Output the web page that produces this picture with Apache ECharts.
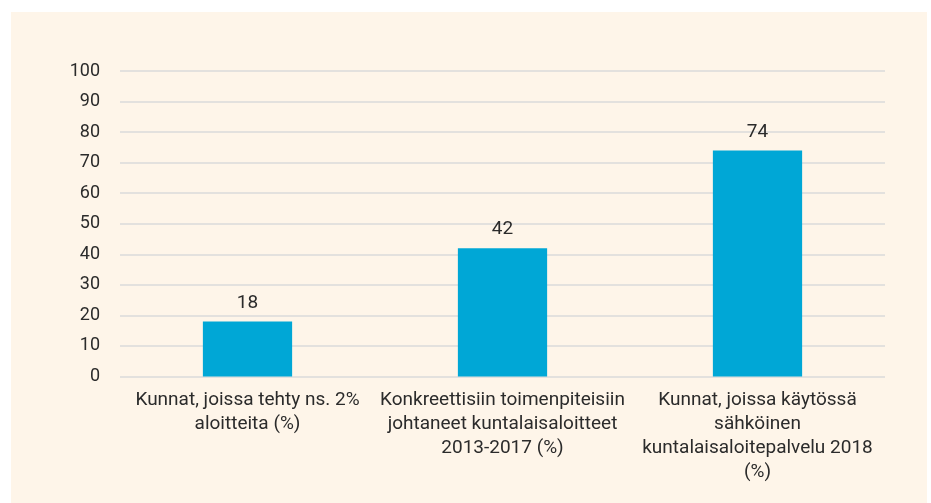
<!DOCTYPE html>
<html>
<head>
<meta charset="utf-8">
<script src="https://cdn.jsdelivr.net/npm/echarts@6/dist/echarts.min.js"></script>
<style>
  html, body { margin: 0; padding: 0; background: #ffffff; }
  #chart { position: absolute; left: 11px; top: 12px; width: 916px; height: 491px; }
</style>
</head>
<body>
<div id="chart"></div>
<script>
const categories = [
  'Kunnat, joissa tehty ns. 2%\naloitteita (%)',
  'Konkreettisiin toimenpiteisiin\njohtaneet kuntalaisaloitteet\n2013-2017 (%)',
  'Kunnat, joissa käytössä\nsähköinen\nkuntalaisaloitepalvelu 2018\n(%)'
];
const values = [18, 42, 74];
const yTicks = { min: 0, max: 100, interval: 10 };

const chart = echarts.init(document.getElementById('chart'));
const textColor = '#2b2b2b';
const font = 'Roboto, "Liberation Sans", sans-serif';

chart.setOption({
  backgroundColor: '#fef5e9',
  animation: false,
  grid: { left: 109, right: 42, top: 59, bottom: 126.5, containLabel: false },
  xAxis: {
    type: 'category',
    data: categories,
    axisLine: { show: false },
    axisTick: { show: false },
    axisLabel: {
      color: textColor,
      fontFamily: font,
      fontSize: 19,
      lineHeight: 24,
      margin: 12,
      interval: 0,
      align: 'center'
    }
  },
  yAxis: {
    type: 'value',
    min: yTicks.min,
    max: yTicks.max,
    interval: yTicks.interval,
    axisLine: { show: false },
    axisTick: { show: false },
    axisLabel: { color: textColor, fontFamily: font, fontSize: 18, margin: 20 },
    splitLine: { lineStyle: { color: '#dadada', width: 1.5 } }
  },
  series: [{
    type: 'bar',
    data: values,
    barWidth: '35%',
    itemStyle: { color: '#00a7d6' },
    label: {
      show: true,
      position: 'top',
      distance: 9,
      color: textColor,
      fontFamily: font,
      fontSize: 19
    }
  }]
});
</script>
</body>
</html>
